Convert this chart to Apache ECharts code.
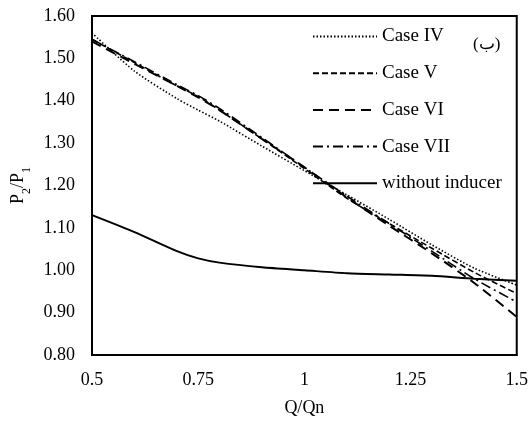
<!DOCTYPE html>
<html>
<head>
<meta charset="utf-8">
<script src="https://cdn.jsdelivr.net/npm/echarts@6/dist/echarts.min.js"></script>
<style>
html,body{margin:0;padding:0;background:#fff;}
#c{width:531px;height:422px;}
</style>
</head>
<body>
<div id="c"></div>
<script>
var xValues = [0.5, 0.6, 0.7, 0.75, 0.8, 0.9, 1.0, 1.1, 1.2, 1.3, 1.4, 1.5];
var caseIV  = [1.56, 1.47, 1.405, 1.378, 1.352, 1.293, 1.235, 1.178, 1.12, 1.06, 1.005, 0.965];
var caseV   = [1.545, 1.49, 1.435, 1.41, 1.378, 1.31, 1.24, 1.17, 1.11, 1.052, 0.995, 0.945];
var caseVI  = [1.54, 1.487, 1.435, 1.408, 1.378, 1.31, 1.243, 1.172, 1.105, 1.04, 0.97, 0.89];
var caseVII = [1.545, 1.492, 1.438, 1.412, 1.382, 1.313, 1.243, 1.175, 1.11, 1.045, 0.98, 0.925];
var noInducer = [1.13, 1.09, 1.045, 1.028, 1.018, 1.007, 1.0, 0.993, 0.99, 0.987, 0.98, 0.975];
var seriesNames = ['Case IV', 'Case V', 'Case VI', 'Case VII', 'without inducer'];

function pairs(ys){ return xValues.map(function(x,i){ return [x, ys[i]]; }); }

var FONT = '"Liberation Serif", "Times New Roman", serif';
var chart = echarts.init(document.getElementById('c'), null, {renderer:'canvas'});

function mk(name, ys, type, width){
  return {
    name: name, type: 'line', data: pairs(ys), smooth: 0.25,
    symbol: 'none', showSymbol: false,
    lineStyle: {color: '#000', width: width, type: type, cap: 'butt'},
    itemStyle: {color: '#000'}
  };
}

chart.setOption({
  backgroundColor: '#fff',
  animation: false,
  textStyle: {fontFamily: FONT, color: '#000'},
  title: {
    text: '(ب)', left: 468, top: 31,
    textStyle: {fontFamily: FONT, fontSize: 17, fontWeight: 'normal', color: '#000'}
  },
  grid: {left: 92, right: 11, top: 16, bottom: 64, show: true, borderColor: '#000', borderWidth: 2, backgroundColor: 'transparent'},
  legend: {
    orient: 'vertical', left: 307, top: 22,
    itemWidth: 64, itemHeight: 14, itemGap: 17.7,
    itemStyle: {color: 'transparent', borderWidth: 0, opacity: 0},
    textStyle: {fontFamily: FONT, fontSize: 19, color: '#000'},
    data: seriesNames
  },
  xAxis: {
    type: 'value', min: 0.5, max: 1.5, interval: 0.25,
    name: 'Q/Qn', nameLocation: 'middle', nameGap: 44,
    nameTextStyle: {fontFamily: FONT, fontSize: 18, color: '#000'},
    axisLine: {show: true, lineStyle: {color: '#000', width: 2}},
    axisTick: {show: false},
    splitLine: {show: false},
    axisLabel: {fontFamily: FONT, fontSize: 18, color: '#000', margin: 16}
  },
  yAxis: {
    type: 'value', min: 0.8, max: 1.6, interval: 0.1,
    name: '{a|P}{s|2}{a|/P}{s|1}', nameLocation: 'middle', nameGap: 62,
    nameTextStyle: {
      fontFamily: FONT, color: '#000',
      rich: {
        a: {fontFamily: FONT, fontSize: 18, color: '#000', lineHeight: 22, verticalAlign: 'bottom'},
        s: {fontFamily: FONT, fontSize: 12, color: '#000', lineHeight: 22, verticalAlign: 'bottom', padding: [0,0,-5,0]}
      }
    },
    axisLine: {show: true, lineStyle: {color: '#000', width: 2}},
    axisTick: {show: false},
    splitLine: {show: false},
    axisLabel: {fontFamily: FONT, fontSize: 18, color: '#000', margin: 17,
      formatter: function(v){ return v.toFixed(2); }}
  },
  series: [
    mk(seriesNames[0], caseIV, [1.5, 2], 1.6),
    mk(seriesNames[1], caseV, [6, 3], 1.6),
    mk(seriesNames[2], caseVI, [10, 6], 2),
    mk(seriesNames[3], caseVII, [10, 4, 2, 4], 1.6),
    mk(seriesNames[4], noInducer, 'solid', 2)
  ]
});
</script>
</body>
</html>
